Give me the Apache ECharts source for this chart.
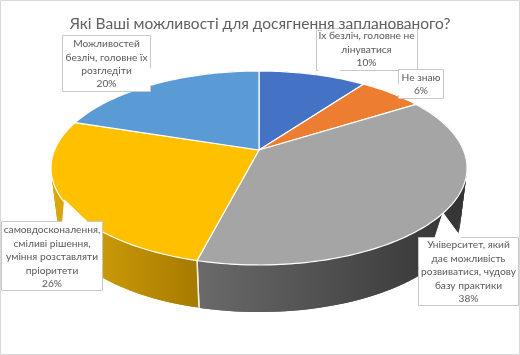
<!DOCTYPE html>
<html>
<head>
<meta charset="utf-8">
<style>
  html, body { margin: 0; padding: 0; background: #fff; }
  #chart { width: 520px; height: 355px; }
</style>
<script src="https://cdn.jsdelivr.net/npm/echarts@6/dist/echarts.min.js"></script>
</head>
<body>
<div id="chart"></div>
<script>
const titleText = "Які Ваші можливості для досягнення запланованого?";
const categories = [
  "Їх безліч, головне не\nлінуватися",
  "Не знаю",
  "Університет, який\nдає можливість\nрозвиватися, чудову\nбазу практики",
  "самовдосконалення,\nсміливі рішення,\nуміння розставляти\nпріоритети",
  "Можливостей\nбезліч, головне їх\nрозгледіти",
];
const values = [10, 6, 38, 26, 20];

const topColors = ["#4472c4", "#ed7d31", "#a5a5a5", "#ffc000", "#5b9bd5"];
const sideColors = [
  ["#2f5597", "#2f5597"],
  ["#a85a20", "#a85a20"],
  ["#6a6a6a", "#333333"],
  ["#dba90a", "#a67a00"],
  ["#3e6f9c", "#3e6f9c"],
];

// callout boxes, same order as categories: box rect, pointer points, text center
const callouts = [
  { box: [316.5, 28.5, 101, 42], tail: [[318, 70.5], [333, 72.5], [340, 70.5]], text: [366.5, 49.5] },
  { box: [398.5, 69.5, 45, 29], tail: [[398.5, 84], [392, 92], [398.5, 95]], text: [421, 84] },
  { box: [418.5, 237.5, 100, 68], tail: [[435, 237.5], [443, 213], [461, 237.5]], text: [468.5, 272] },
  { box: [1.5, 221.5, 101, 69], tail: [[62.7, 221.5], [64.5, 200], [87, 221.5]], text: [52, 257] },
  { box: [62.5, 35.5, 88, 56], tail: [[150.5, 68], [157, 82], [150.5, 85]], text: [106.5, 64] },
];

// perspective of the disc: unit circle goes through y = (a + b*v) / (1 + c*v)
const cx = 259;
const persp = -0.1856;
const topRim = { k: 204.4, a: 150, b: 65.8 };
const bottomRim = { k: 198, a: 201.7, b: 52.4 };

function rimPoint(rim, angle) {
  const u = Math.sin(angle);
  const v = -Math.cos(angle);
  const d = 1 + persp * v;
  return [cx + rim.k * u / d, (rim.a + rim.b * v) / d];
}

function arcPoints(rim, from, to) {
  const n = Math.max(2, Math.ceil((to - from) / 0.02));
  const pts = [];
  for (let i = 0; i <= n; i++) {
    pts.push(rimPoint(rim, from + (to - from) * i / n));
  }
  return pts;
}

const total = values.reduce((s, x) => s + x, 0);
function sliceAngles(index) {
  let before = 0;
  for (let i = 0; i < index; i++) before += values[i];
  return [before / total * Math.PI * 2, (before + values[index]) / total * Math.PI * 2];
}

function renderSide(params, api) {
  const i = params.dataIndex;
  const [from, to] = sliceAngles(i);
  const upper = arcPoints(topRim, from, to);
  const lower = arcPoints(bottomRim, from, to);
  const xs = upper.concat(lower).map(p => p[0]);
  // yellow goes dark towards the front, gray goes dark towards the right
  const fill = new echarts.graphic.LinearGradient(Math.min(...xs), 0, Math.max(...xs), 0, [
    { offset: 0, color: sideColors[i][0] },
    { offset: 1, color: sideColors[i][1] },
  ], true);
  // quads overlap by one step: no seams, and the wall covers the silhouette at far left and right
  const children = [];
  for (let j = 0; j < upper.length - 1; j++) {
    const next = Math.min(j + 2, upper.length - 1);
    children.push({
      type: "polygon",
      shape: { points: [upper[j], upper[next], lower[next], lower[j]] },
      style: { fill: fill },
    });
  }
  [0, upper.length - 1].forEach(j => {
    children.push({
      type: "line",
      shape: { x1: upper[j][0], y1: upper[j][1], x2: lower[j][0], y2: lower[j][1] },
      style: { stroke: "#f4f1e4", lineWidth: 1.5 },
    });
  });
  return { type: "group", children: children };
}

function renderTop(params, api) {
  const i = params.dataIndex;
  const [from, to] = sliceAngles(i);
  const apex = [cx, topRim.a];
  return {
    type: "polygon",
    shape: { points: [apex].concat(arcPoints(topRim, from, to)) },
    style: { fill: topColors[i], stroke: "#ffffff", lineWidth: 1.2 },
  };
}

function renderCallout(params, api) {
  const i = params.dataIndex;
  const c = callouts[i];
  const [x, y, w, h] = c.box;
  return {
    type: "group",
    children: [
      {
        type: "rect",
        shape: { x: x, y: y, width: w, height: h },
        style: { fill: "#ffffff", stroke: "#c8c8c8", lineWidth: 1 },
      },
      {
        type: "polygon",
        shape: { points: c.tail },
        style: { fill: "#ffffff", stroke: "#ffffff", lineWidth: 1 },
      },
      {
        type: "text",
        style: {
          text: categories[i] + "\n" + api.value(0) + "%",
          x: c.text[0],
          y: c.text[1],
          textAlign: "center",
          textVerticalAlign: "middle",
          fontFamily: "Lato, 'Open Sans', sans-serif",
          fontSize: 10.2,
          lineHeight: 13.4,
          fill: "#595959",
        },
      },
    ],
  };
}

const myChart = echarts.init(document.getElementById("chart"), null, { renderer: "canvas" });

const option = {
  animation: false,
  title: {
    text: titleText,
    left: "center",
    top: 11,
    textStyle: {
      fontFamily: "Lato, 'Open Sans', sans-serif",
      fontSize: 15.5,
      fontWeight: "normal",
      color: "#5f5f5f",
    },
  },
  graphic: [
    {
      type: "rect",
      shape: { x: 0.5, y: 0.5, width: 519, height: 354 },
      style: { fill: "none", stroke: "#d9d9d9", lineWidth: 1 },
      z: 0,
    },
  ],
  series: [
    { type: "custom", coordinateSystem: "none", data: values, renderItem: renderSide, z: 1, silent: true },
    { type: "custom", coordinateSystem: "none", data: values, renderItem: renderTop, z: 2, silent: true },
    { type: "custom", coordinateSystem: "none", data: values, renderItem: renderCallout, z: 3, silent: true },
  ],
};

myChart.setOption(option);
</script>
</body>
</html>
